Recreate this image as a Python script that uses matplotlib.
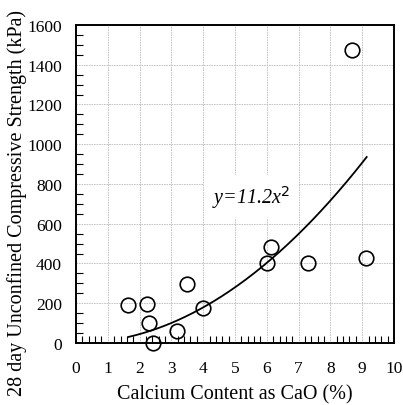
import matplotlib.pyplot as plt
import numpy as np
from matplotlib.ticker import MultipleLocator

plt.rcParams['font.family'] = ['Liberation Serif', 'DejaVu Serif']

# calcium content (%) vs 28 day UCS (kPa)
cao = [1.63, 2.23, 2.31, 2.43, 3.19, 3.5, 3.98, 6.02, 6.12, 7.28, 9.13, 8.67]
ucs = [190, 198, 99, 0, 60, 295, 178, 404, 485, 404, 426, 1476]

# fitted relation y = a * x^2
coef = 11.2
fit_range = [1.65, 9.14]

fig = plt.figure(figsize=(4.03, 4.06), dpi=100)
ax = fig.add_axes([0.1886, 0.1527, 0.7891, 0.7833])

xf = np.linspace(fit_range[0], fit_range[1], 200)
ax.plot(xf, coef * xf ** 2, color='black', lw=1.3, zorder=3)
ax.plot(cao, ucs, 'o', mfc='none', mec='black', mew=1.2, ms=10.5,
        clip_on=False, zorder=4)

ax.text(5.5, 735, 'y=11.2x$^2$', fontsize=14.5, style='italic',
        ha='center', va='center', zorder=2,
        bbox=dict(facecolor='white', edgecolor='none', pad=6))

ax.set_xlim(0, 10)
ax.set_ylim(0, 1600)
ax.xaxis.set_major_locator(MultipleLocator(1))
ax.xaxis.set_minor_locator(MultipleLocator(0.2))
ax.yaxis.set_major_locator(MultipleLocator(200))
ax.yaxis.set_minor_locator(MultipleLocator(50))
ax.grid(True, which='major', color='#bdbdbd', lw=0.6, ls=(0, (2, 1)), zorder=0)
ax.tick_params(which='both', direction='in', labelsize=12.5, color='black')
ax.tick_params(which='major', length=0)
ax.tick_params(axis='x', which='major', pad=12.5)
ax.tick_params(axis='y', which='major', pad=10)
ax.tick_params(which='minor', length=5, width=0.8)
for sp in ax.spines.values():
    sp.set_linewidth(1.4)

ax.set_xlabel('Calcium Content as CaO (%)', fontsize=14.5, labelpad=6)
ax.set_ylabel('28 day Unconfined Compressive Strength (kPa)', fontsize=14.5)
ax.yaxis.set_label_coords(-0.155, 0.443)

fig.savefig('out.png', dpi=100)
